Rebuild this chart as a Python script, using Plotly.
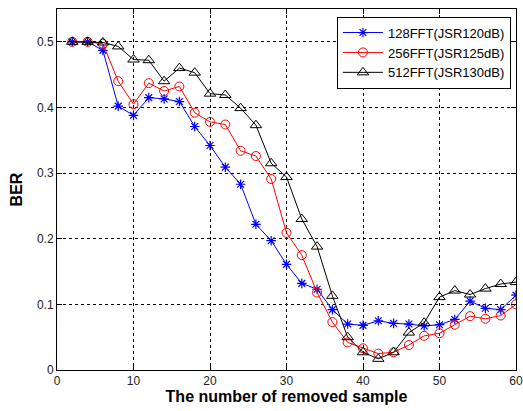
import plotly.graph_objects as go

x_vals = list(range(2, 61, 2))

ber_128 = [0.500, 0.500, 0.487, 0.402, 0.388, 0.415, 0.413, 0.409, 0.371, 0.342,
           0.309, 0.283, 0.222, 0.197, 0.161, 0.132, 0.123, 0.092, 0.070, 0.068,
           0.075, 0.071, 0.070, 0.067, 0.069, 0.077, 0.105, 0.094, 0.092, 0.114]
ber_256 = [0.500, 0.500, 0.497, 0.440, 0.405, 0.437, 0.425, 0.432, 0.392, 0.378,
           0.374, 0.334, 0.326, 0.291, 0.209, 0.175, 0.118, 0.073, 0.042, 0.033,
           0.025, 0.027, 0.038, 0.052, 0.056, 0.069, 0.082, 0.078, 0.083, 0.100]
ber_512 = [0.500, 0.500, 0.499, 0.493, 0.473, 0.472, 0.440, 0.460, 0.453, 0.421,
           0.419, 0.399, 0.373, 0.315, 0.294, 0.230, 0.188, 0.113, 0.050, 0.027,
           0.017, 0.027, 0.057, 0.072, 0.111, 0.121, 0.115, 0.124, 0.131, 0.134]

names = ["128FFT(JSR120dB)", "256FFT(JSR125dB)", "512FFT(JSR130dB)"]
x_ticks = [0, 10, 20, 30, 40, 50, 60]
y_ticks = [0, 0.1, 0.2, 0.3, 0.4, 0.5]

fig = go.Figure()
fig.add_trace(go.Scatter(
    x=x_vals, y=ber_128, name=names[0], mode="lines+markers",
    line=dict(color="#0000ff", width=1),
    marker=dict(symbol="asterisk-open", size=8, color="#0000ff", line=dict(color="#0000ff", width=1.2))))
fig.add_trace(go.Scatter(
    x=x_vals, y=ber_256, name=names[1], mode="lines+markers",
    line=dict(color="#ff0000", width=1),
    marker=dict(symbol="circle-open", size=9, color="#ff0000", line=dict(color="#ff0000", width=1))))
fig.add_trace(go.Scatter(
    x=x_vals, y=ber_512, name=names[2], mode="lines+markers",
    line=dict(color="#000000", width=1),
    marker=dict(symbol="triangle-up-open", size=10, color="#000000", line=dict(color="#000000", width=1))))

axis_common = dict(
    showline=True, linecolor="#000000", linewidth=1, mirror="ticks",
    ticks="inside", ticklen=5, tickcolor="#000000",
    showgrid=True, gridcolor="#000000", griddash="dot", gridwidth=1,
    zeroline=False, automargin=False,
    tickfont=dict(family="Liberation Sans, Arial, sans-serif", size=12, color="#222222"),
)

fig.update_xaxes(range=[0, 60], tickvals=x_ticks, ticktext=[str(v) for v in x_ticks],
                 title=dict(text="<b>The number of removed sample</b>", standoff=3,
                            font=dict(family="Liberation Sans, Arial, sans-serif", size=16, color="#000000")),
                 **axis_common)
fig.update_yaxes(range=[0, 0.55], tickvals=y_ticks, ticktext=["0", "0.1", "0.2", "0.3", "0.4", "0.5"],
                 title=dict(text="<b>BER</b>", standoff=10,
                            font=dict(family="Liberation Sans, Arial, sans-serif", size=16, color="#000000")),
                 **axis_common)

fig.update_layout(
    width=523, height=411,
    margin=dict(l=57, r=7, t=9, b=41),
    paper_bgcolor="#ffffff", plot_bgcolor="#ffffff",
    showlegend=True,
    legend=dict(x=0.989, xanchor="right", y=0.979, yanchor="top",
                bgcolor="#ffffff", bordercolor="#000000", borderwidth=1,
                font=dict(family="Liberation Sans, Arial, sans-serif", size=13, color="#000000"),
                tracegroupgap=0, itemwidth=40),
)

fig.write_html("out.html", config={"displayModeBar": False},
               post_script="document.body.style.margin='0';document.body.style.overflow='hidden';")
